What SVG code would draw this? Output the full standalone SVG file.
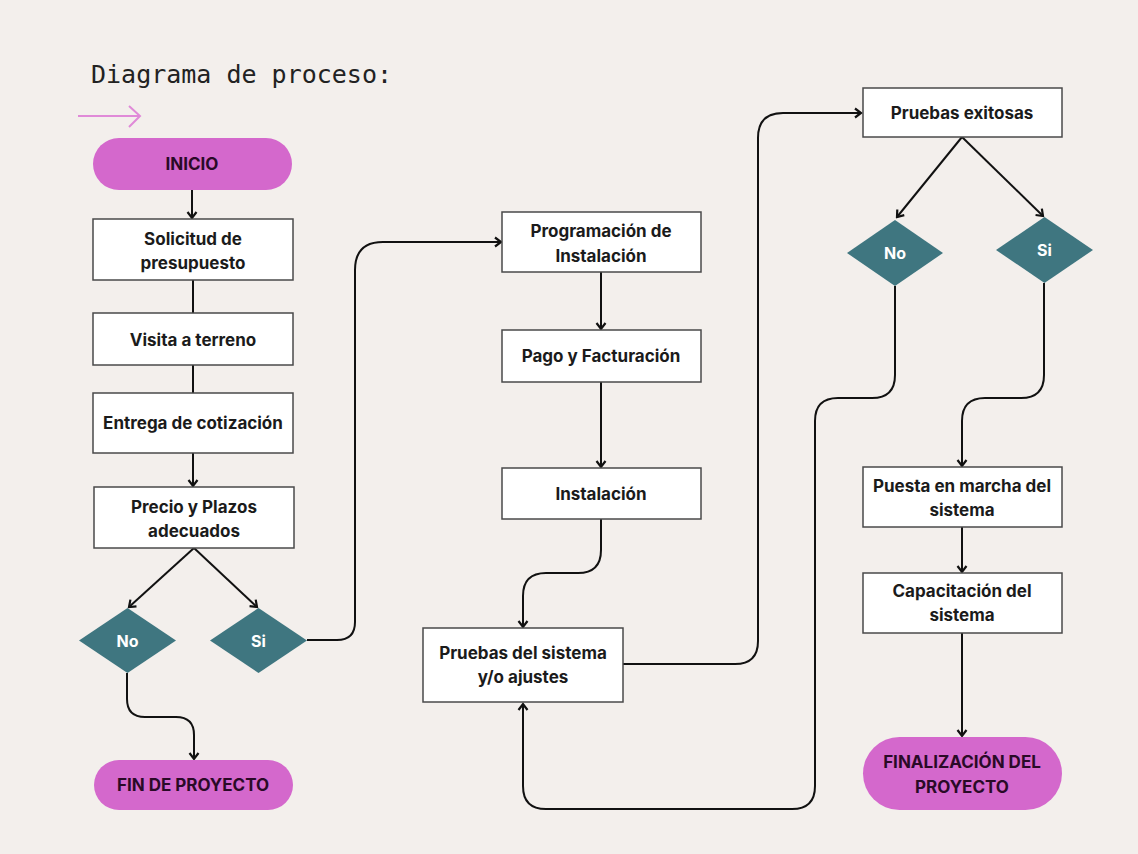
<svg xmlns="http://www.w3.org/2000/svg" width="1138" height="854" viewBox="0 0 1138 854">
<defs>
<style>
.bg{fill:#f3efec}
.box{fill:#ffffff;stroke:#4a4a4a;stroke-width:1.5}
.pill{fill:#d468cc}
.dia{fill:#3f7680}
.t{font-family:Inter,"Liberation Sans",sans-serif;font-weight:700;font-size:17px;fill:#1b1b1b;text-anchor:middle}
.tp{font-family:Inter,"Liberation Sans",sans-serif;font-weight:700;font-size:17px;fill:#2a0a27;text-anchor:middle}
.td{font-family:Inter,"Liberation Sans",sans-serif;font-weight:700;font-size:16px;fill:#ffffff;text-anchor:middle}
.title{font-family:"DejaVu Sans Mono",monospace;font-size:25px;fill:#222222}
.c{fill:none;stroke:#111111;stroke-width:2}
.ca{fill:none;stroke:#111111;stroke-width:2;marker-end:url(#ah)}
</style>
<marker id="ah" viewBox="-8 -6 10 12" refX="0" refY="0" markerWidth="10" markerHeight="12" markerUnits="userSpaceOnUse" orient="auto">
<path d="M-6,-4.5 L0,0 L-6,4.5" fill="none" stroke="#111111" stroke-width="2.2"/>
</marker>
</defs>
<rect class="bg" x="0" y="0" width="1138" height="854"/>
<g id="title">
<text class="title" x="91" y="83">Diagrama de proceso:</text>
<path d="M78,116 H140 M129,106 L140,116 L129,127" fill="none" stroke="#e08ad8" stroke-width="2"/>
</g>
<g id="connectors">
<path class="ca" d="M192,190 V218"/>
<path class="c" d="M193,280 V313"/>
<path class="c" d="M193,365 V393"/>
<path class="ca" d="M193,453 V486"/>
<path class="ca" d="M194,548 L129,607"/>
<path class="ca" d="M194,548 L257,607"/>
<path class="ca" d="M127,673 V699 Q127,717 145,717 H176 Q194,717 194,735 V759"/>
<path class="ca" d="M307,640 H337 Q355,640 355,622 V270 Q355,242 383,242 H501"/>
<path class="ca" d="M601,272 V329"/>
<path class="ca" d="M601,382 V467"/>
<path class="ca" d="M601,519 V550 Q601,573 578,573 H546 Q523,573 523,596 V627"/>
<path class="ca" d="M623,664 H735 Q758,664 758,641 V138 Q758,113 783,113 H861"/>
<path class="ca" d="M962,137 L897,217"/>
<path class="ca" d="M962,137 L1043,216"/>
<path class="ca" d="M895,286 V375 Q895,398 872,398 H838 Q815,398 815,421 V786 Q815,809 792,809 H546 Q523,809 523,786 V704"/>
<path class="ca" d="M1044,283 V375 Q1044,398 1021,398 H985 Q962,398 962,421 V466"/>
<path class="ca" d="M962,527 V572"/>
<path class="ca" d="M962,633 V736"/>
</g>
<g id="inicio">
<rect class="pill" x="93" y="138" width="199" height="52" rx="26"/>
<text class="tp" x="192" y="170">INICIO</text>
</g>
<g id="solicitud">
<rect class="box" x="93" y="219" width="200" height="61"/>
<text class="t" x="193" y="245">Solicitud de</text>
<text class="t" x="193" y="269">presupuesto</text>
</g>
<g id="visita">
<rect class="box" x="93" y="313" width="200" height="52"/>
<text class="t" x="193" y="346">Visita a terreno</text>
</g>
<g id="entrega">
<rect class="box" x="93" y="393" width="200" height="60"/>
<text class="t" x="193" y="429">Entrega de cotización</text>
</g>
<g id="precio">
<rect class="box" x="94" y="487" width="200" height="61"/>
<text class="t" x="194" y="513">Precio y Plazos</text>
<text class="t" x="194" y="537">adecuados</text>
</g>
<g id="no1">
<polygon class="dia" points="127.5,608 176,640.5 127.5,673 79,640.5"/>
<text class="td" x="127.5" y="646.5">No</text>
</g>
<g id="si1">
<polygon class="dia" points="258.5,608 307,640.5 258.5,673 210,640.5"/>
<text class="td" x="258.5" y="646.5">Si</text>
</g>
<g id="fin">
<rect class="pill" x="94" y="760" width="199" height="50" rx="25"/>
<text class="tp" x="193" y="791">FIN DE PROYECTO</text>
</g>
<g id="programacion">
<rect class="box" x="502" y="212" width="199" height="60"/>
<text class="t" x="601" y="237">Programación de</text>
<text class="t" x="601" y="262">Instalación</text>
</g>
<g id="pago">
<rect class="box" x="502" y="330" width="199" height="52"/>
<text class="t" x="601" y="362">Pago y Facturación</text>
</g>
<g id="instalacion">
<rect class="box" x="502" y="468" width="199" height="51"/>
<text class="t" x="601" y="500">Instalación</text>
</g>
<g id="pruebas">
<rect class="box" x="423" y="628" width="200" height="74"/>
<text class="t" x="523" y="659">Pruebas del sistema</text>
<text class="t" x="523" y="683">y/o ajustes</text>
</g>
<g id="exitosas">
<rect class="box" x="863" y="88" width="199" height="49"/>
<text class="t" x="962" y="119">Pruebas exitosas</text>
</g>
<g id="no2">
<polygon class="dia" points="895,220 943,253 895,286 847,253"/>
<text class="td" x="895" y="259">No</text>
</g>
<g id="si2">
<polygon class="dia" points="1044.5,217 1093,250 1044.5,283 996,250"/>
<text class="td" x="1044.5" y="256">Si</text>
</g>
<g id="puesta">
<rect class="box" x="863" y="467" width="199" height="60"/>
<text class="t" x="962" y="492">Puesta en marcha del</text>
<text class="t" x="962" y="516">sistema</text>
</g>
<g id="capacitacion">
<rect class="box" x="863" y="573" width="199" height="60"/>
<text class="t" x="962" y="597">Capacitación del</text>
<text class="t" x="962" y="621">sistema</text>
</g>
<g id="finalizacion">
<rect class="pill" x="863" y="737" width="199" height="73" rx="36.5"/>
<text class="tp" x="962" y="768">FINALIZACIÓN DEL</text>
<text class="tp" x="962" y="793">PROYECTO</text>
</g>
</svg>
